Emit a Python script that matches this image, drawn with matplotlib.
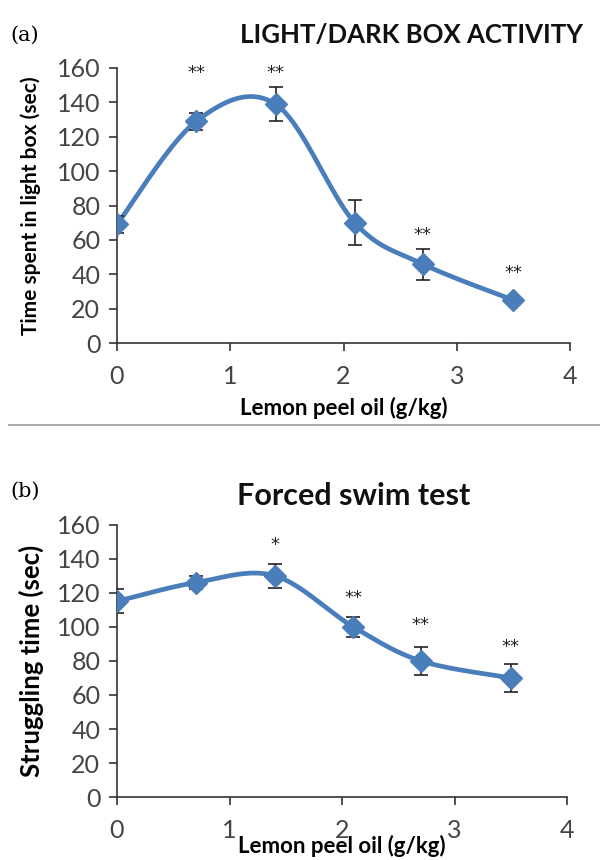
import matplotlib
matplotlib.use("Agg")
import matplotlib.pyplot as plt
import numpy as np
from matplotlib.lines import Line2D

# ---- data -------------------------------------------------------------------
dose = [0, 0.7, 1.4, 2.1, 2.7, 3.5]

light_time = [69, 129, 139, 70, 46, 25]
light_err = [5, 5, 10, 13, 9, 2]
light_stars = ["", "**", "**", "", "**", "**"]
light_star_y = [0, 157, 157, 0, 63, 41]

swim_time = [115, 126, 130, 100, 80, 70]
swim_err = [7, 4, 7, 6, 8, 8]
swim_stars = ["", "", "*", "**", "**", "**"]
swim_star_y = [0, 0, 148, 117, 101, 88]

BLUE = "#4a7ebb"
INK = "#222222"
FONT = "Lato"


def smooth(x, y, n=40):
    """Excel-style smoothed line: cubic Bezier with Catmull-Rom control points."""
    x = np.asarray(x, float)
    y = np.asarray(y, float)
    px = np.concatenate([[x[0]], x, [x[-1]]])
    py = np.concatenate([[y[0]], y, [y[-1]]])
    xs, ys = [], []
    t = np.linspace(0, 1, n)
    for i in range(1, len(px) - 2):
        p0 = np.array([px[i], py[i]])
        p3 = np.array([px[i + 1], py[i + 1]])
        c1 = p0 + (np.array([px[i + 1], py[i + 1]]) - np.array([px[i - 1], py[i - 1]])) / 6
        c2 = p3 - (np.array([px[i + 2], py[i + 2]]) - np.array([px[i], py[i]])) / 6
        b = ((1 - t) ** 3)[:, None] * p0 + (3 * (1 - t) ** 2 * t)[:, None] * c1 \
            + (3 * (1 - t) * t ** 2)[:, None] * c2 + (t ** 3)[:, None] * p3
        xs.append(b[:, 0])
        ys.append(b[:, 1])
    return np.concatenate(xs), np.concatenate(ys)


def panel(ax, y, err, stars, star_y, ylabel, ylabel_size, xlabel_y):
    sx, sy = smooth(dose, y)
    ax.plot(sx, sy, color=BLUE, lw=3.4, zorder=2, solid_capstyle="round")
    ax.errorbar(dose, y, yerr=err, fmt="none", ecolor=INK, elinewidth=1.2,
                capsize=5, capthick=1.2, zorder=3)
    ax.plot(dose, y, "D", color=BLUE, ms=11, zorder=4)
    for xv, s, yv in zip(dose, stars, star_y):
        if s:
            ax.text(xv, yv, s, ha="center", va="center", fontsize=13, color=INK)
    ax.set_xlim(0, 4)
    ax.set_ylim(0, 160)
    ax.set_xticks([0, 1, 2, 3, 4])
    ax.set_yticks(range(0, 161, 20))
    for side in ("top", "right"):
        ax.spines[side].set_visible(False)
    for side in ("left", "bottom"):
        ax.spines[side].set_color("#333333")
        ax.spines[side].set_linewidth(1.2)
    ax.tick_params(direction="out", length=6, width=1.2, color="#333333",
                   labelsize=18, labelcolor="#444444")
    ax.tick_params(axis="x", pad=10)
    ax.tick_params(axis="y", pad=6)
    for lab in ax.get_xticklabels() + ax.get_yticklabels():
        lab.set_fontfamily(FONT)
    ax.set_ylabel(ylabel, fontsize=ylabel_size, fontweight="bold", family=FONT,
                  va="center")
    ax.yaxis.set_label_coords(-0.19, 0.5)
    ax.set_xlabel("Lemon peel oil (g/kg)", fontsize=16, fontweight="bold",
                  family=FONT, va="center")
    ax.xaxis.set_label_coords(0.5, xlabel_y)


fig = plt.figure(figsize=(6, 8.6), dpi=100)

ax1 = fig.add_axes([0.195, 0.601, 0.755, 0.320])
panel(ax1, light_time, light_err, light_stars, light_star_y,
      "Time spent in light box (sec)", 15, -0.236)

ax2 = fig.add_axes([0.195, 0.073, 0.750, 0.317])
panel(ax2, swim_time, swim_err, swim_stars, swim_star_y,
      "Struggling time (sec)", 18.5, -0.18)

fig.text(0.018, 0.959, "(a)", fontsize=15, family="DejaVu Serif", va="center")
fig.text(0.685, 0.959, "LIGHT/DARK BOX ACTIVITY", fontsize=18.5, fontweight="bold",
         family=FONT, ha="center", va="center", color="#111111")
fig.text(0.018, 0.429, "(b)", fontsize=15, family="DejaVu Serif", va="center")
fig.text(0.590, 0.423, "Forced swim test", fontsize=22, fontweight="bold",
         family=FONT, ha="center", va="center", color="#111111")

fig.add_artist(Line2D([0.015, 1.0], [0.506, 0.506], color="#999999", lw=1.2))

fig.savefig("out.png", dpi=100, facecolor="white")
